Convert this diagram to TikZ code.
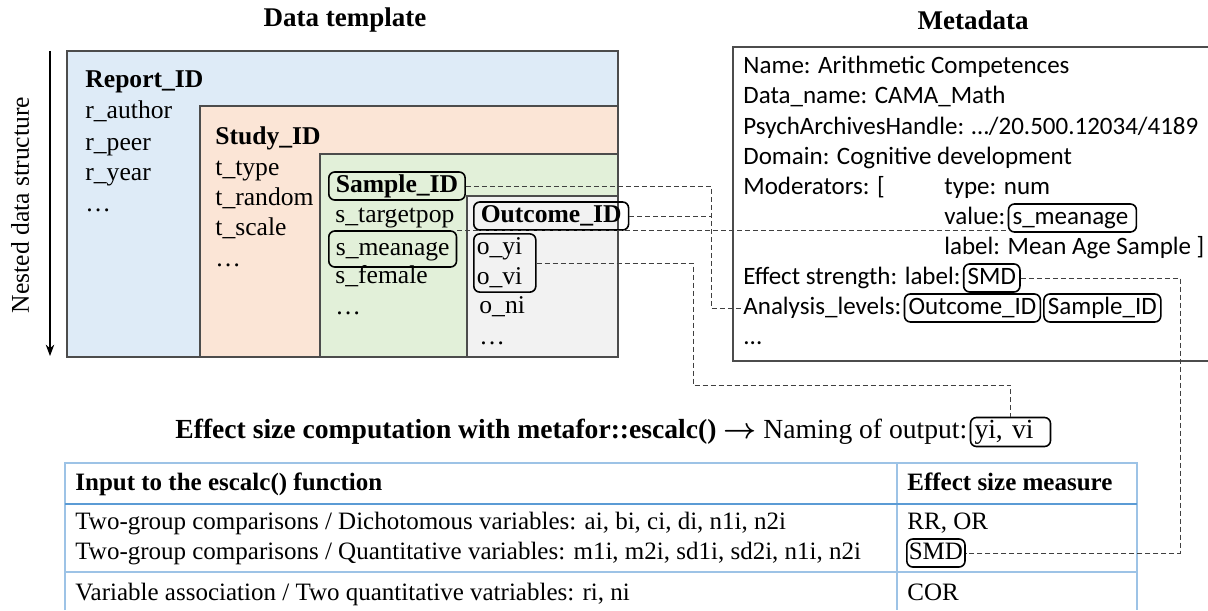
\documentclass[tikz,border=0pt]{standalone}
\usepackage{fontspec}
\setmainfont{Liberation Serif}
\newfontfamily\metafont{Carlito}
\usetikzlibrary{positioning, arrows.meta}

\definecolor{reportblue}{HTML}{DEEBF7}
\definecolor{studyorange}{HTML}{FBE5D6}
\definecolor{samplegreen}{HTML}{E2F0D9}
\definecolor{outcomegray}{HTML}{F2F2F2}
\definecolor{tableblue}{HTML}{9DC3E6}
\definecolor{tablerule}{HTML}{5B9BD5}

\begin{document}
\begin{tikzpicture}[
		x=0.5pt, y=-0.5pt,
		>=Stealth,
		% Level and text styles
		level_box/.style={draw=black!70, line width=0.6pt},
		field/.style={anchor=west, inner xsep=3.5pt, inner ysep=1pt, text height=9pt, text depth=3pt, font=\fontsize{12.8}{15}\selectfont},
		field_id/.style={field, font=\fontsize{12.8}{15}\selectfont\bfseries},
		tagged/.style={draw=black, rounded corners=3pt, line width=0.8pt},
		meta_field/.style={anchor=west, inner xsep=0.5pt, inner ysep=1pt, text height=9pt, text depth=3pt, font=\metafont\fontsize{12.5}{15}\selectfont},
		meta_tag/.style={meta_field, tagged, inner xsep=2pt},
		cell/.style={anchor=west, inner xsep=3pt, inner ysep=1pt, text height=9pt, text depth=3pt, font=\fontsize{12.5}{15}\selectfont},
		heading/.style={font=\fontsize{13.5}{16}\selectfont\bfseries},
		% Edge styles
		link_edge/.style={draw=black!75, dash pattern=on 2.5pt off 1.5pt, line width=0.5pt},
		table_line/.style={draw=tableblue, line width=0.6pt},
		table_rule/.style={draw=tablerule, line width=1.4pt}
		]
		\useasboundingbox (0,0) rectangle (1208,610);
		
		% --- TITLES ---
		\node[heading] (data_title) at (345,20) {Data template};
		\node[heading] (meta_title) at (973,20) {Metadata};
		
		% --- NESTED LEVELS ---
		\filldraw[level_box, fill=reportblue] (67,51) rectangle (618,357);
		\filldraw[level_box, fill=studyorange] (200,106) rectangle (618,357);
		\filldraw[level_box, fill=samplegreen] (320,154) rectangle (618,357);
		\filldraw[level_box, fill=outcomegray] (467,196) rectangle (618,357);
		
		\coordinate (nest_top) at (50,51);
		\coordinate (nest_bottom) at (50,356);
		\draw[->, line width=0.6pt] (nest_top) -- (nest_bottom);
		\node[rotate=90, font=\fontsize{12.8}{15}\selectfont] (nest_label) at (20,205) {Nested data structure};
		
		% Report level
		\node[field_id] (report_id) at (78,82) {Report\_ID};
		\node[field] (r_author) at (78,113) {r\_author};
		\node[field] (r_peer) at (78,144) {r\_peer};
		\node[field] (r_year) at (78,174) {r\_year};
		\node[field] (r_more) at (78,205) {\ldots};
		
		% Study level
		\node[field_id] (study_id) at (208,138) {Study\_ID};
		\node[field] (t_type) at (208,169) {t\_type};
		\node[field] (t_random) at (208,199) {t\_random};
		\node[field] (t_scale) at (208,229) {t\_scale};
		\node[field] (t_more) at (208,260) {\ldots};
		
		% Sample level
		\node[field_id, tagged] (sample_id) at (328,186) {Sample\_ID};
		\node[field] (s_targetpop) at (328,216) {s\_targetpop};
		\node[field, tagged, inner ysep=3pt] (s_meanage) at (328,249) {s\_meanage};
		\node[field] (s_female) at (328,277) {s\_female};
		\node[field] (s_more) at (328,308) {\ldots};
		
		% Outcome level
		\node[field_id, tagged] (outcome_id) at (473,216) {Outcome\_ID};
		\node[tagged, anchor=west, inner xsep=1.5pt, inner ysep=2pt, text width=28pt, align=left, font=\fontsize{12.8}{15}\selectfont] (o_yivi) at (473,263) {o\_yi\\o\_vi};
		\node[field] (o_ni) at (472,307) {o\_ni};
		\node[field] (o_more) at (472,338) {\ldots};
		
		% --- METADATA ---
		\draw[level_box] (1215,47) -- (733,47) -- (733,361) -- (1215,361);
		\node[meta_field] (m_name) at (742,68) {Name: Arithmetic Competences};
		\node[meta_field] (m_dataname) at (742,98) {Data\_name: CAMA\_Math};
		\node[meta_field] (m_handle) at (742,128) {PsychArchivesHandle: …/20.500.12034/4189};
		\node[meta_field] (m_domain) at (742,158) {Domain: Cognitive development};
		\node[meta_field] (m_moderators) at (742,188) {Moderators: [};
		\node[meta_field] (m_type) at (943,188) {type: num};
		\node[meta_field] (m_value) at (943,218) {value:};
		\node[meta_tag, right=0.5pt of m_value] (m_meanage) {s\_meanage\,};
		\node[meta_field] (m_label) at (943,248) {label: Mean Age Sample ]};
		\node[meta_field] (m_effect) at (742,278) {Effect strength: label:};
		\node[meta_tag, right=0.5pt of m_effect] (m_smd) {SMD};
		\node[meta_field] (m_levels) at (742,308) {Analysis\_levels:};
		\node[meta_tag, right=0.5pt of m_levels] (m_outcome) {Outcome\_ID};
		\node[meta_tag, right=1pt of m_outcome] (m_sample) {Sample\_ID};
		\node[meta_field] (m_more) at (742,338) {...};
		
		% --- ESCALC LINE ---
		\node[anchor=west, inner xsep=0pt, font=\fontsize{13.8}{16}\selectfont] (escalc_title) at (175,432) {\textbf{Effect size computation with metafor::escalc()} {\boldmath$\rightarrow$} Naming of output:};
		\node[tagged, right=1pt of escalc_title, inner xsep=2pt, inner ysep=1pt, text width=36pt, align=left, text height=9.5pt, text depth=3pt, font=\fontsize{13.8}{16}\selectfont] (yi_vi) {yi, vi};
		
		% --- TABLE ---
		\draw[table_line] (65,610) -- (65,463) -- (1137,463) -- (1137,610);
		\draw[table_line] (897,463) -- (897,610);
		\draw[table_rule] (65,504) -- (1137,504);
		\draw[table_line] (65,572) -- (1137,572);
		
		\node[cell, font=\fontsize{12.5}{15}\selectfont\bfseries] (input_head) at (69,484) {Input to the escalc() function};
		\node[cell, font=\fontsize{12.5}{15}\selectfont\bfseries] (measure_head) at (901,484) {Effect size measure};
		\node[cell] (input_dich) at (69,523) {Two-group comparisons / Dichotomous variables: ai, bi, ci, di, n1i, n2i};
		\node[cell] (input_quant) at (69,553) {Two-group comparisons / Quantitative variables: m1i, m2i, sd1i, sd2i, n1i, n2i};
		\node[cell] (input_assoc) at (69,594) {Variable association / Two quantitative vatriables: ri, ni};
		\node[cell] (measure_rr) at (901,523) {RR, OR};
		\node[cell, tagged, inner xsep=1pt] (measure_smd) at (906,553) {SMD};
		\node[cell] (measure_cor) at (901,594) {COR};
		
		% ================= LINKS =================
		% Sample and outcome IDs to analysis levels
		\coordinate (levels_bus) at (711,186);
		\draw[link_edge] (sample_id.east) -- (sample_id.east -| levels_bus) |- (m_levels.west);
		\draw[link_edge] (outcome_id.east) -- (outcome_id.east -| levels_bus);
		
		% Moderator value
		\draw[link_edge] (s_meanage.north east) -- (s_meanage.north east -| m_meanage.west);
		
		% Output naming
		\coordinate (yivi_turn) at (693,385);
		\draw[link_edge] (o_yivi.east) -| (yivi_turn) -| (yi_vi.north);
		
		% Effect strength to measure
		\coordinate (smd_turn) at (1180,278);
		\draw[link_edge] (m_smd.east) -- (m_smd.east -| smd_turn) |- (measure_smd.east);
		
	\end{tikzpicture}
\end{document}
